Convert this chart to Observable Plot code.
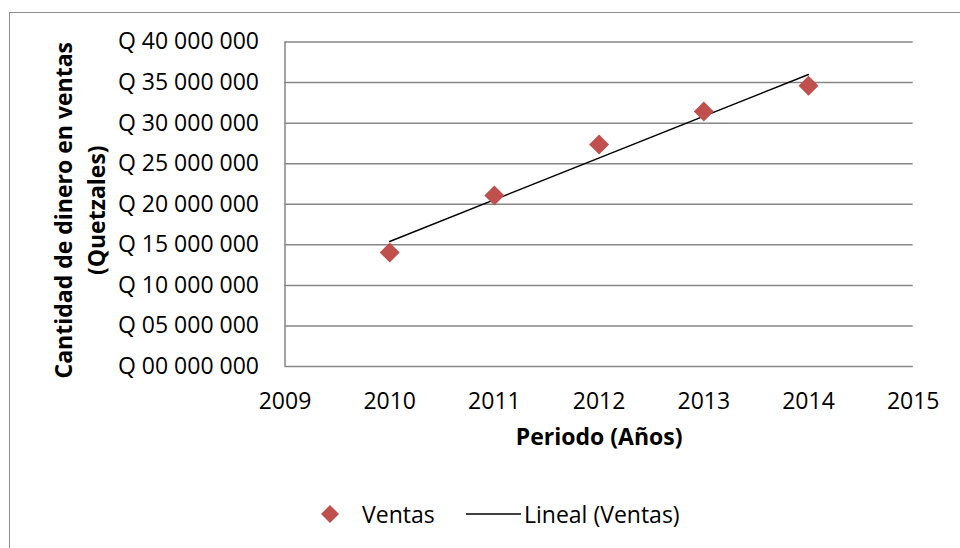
<!DOCTYPE html>
<html>
<head>
<meta charset="utf-8">
<script src="https://cdn.jsdelivr.net/npm/d3@7"></script>
<script src="https://cdn.jsdelivr.net/npm/@observablehq/plot@0.6"></script>
<style>
  html, body { margin: 0; padding: 0; background: #fff; }
  body { width: 960px; height: 548px; overflow: hidden; position: relative; font-family: "Open Sans", sans-serif; }
  #frame { position: absolute; left: 9px; top: 12px; width: 1000px; height: 600px; border-left: 1.5px solid #8e8e8e; border-top: 1.5px solid #8e8e8e; box-sizing: border-box; }
  #chart { position: absolute; left: 0; top: 0; }
  #legend { position: absolute; left: 0; top: 480px; width: 960px; height: 68px; font-size: 23px; color: #000; }
  .item { position: absolute; top: 14px; display: flex; align-items: center; height: 40px; }
</style>
</head>
<body>
<div id="frame"></div>
<div id="chart"></div>
<div id="legend">
  <div class="item" style="left:318px"><svg width="24" height="24" style="margin-right:20px"><polygon points="12,3 21,12 12,21 3,12" fill="#C0504D"/></svg><span id="lg1"></span></div>
  <div class="item" style="left:466px"><svg width="55" height="24" style="margin-right:3px"><line x1="0" y1="12" x2="55" y2="12" stroke="#000" stroke-width="1.5"/></svg><span id="lg2"></span></div>
</div>
<script>
const years = [2010, 2011, 2012, 2013, 2014];
const ventas = [14050000, 21080000, 27370000, 31430000, 34600000];
const xDomain = [2009, 2015];
const xTicks = [2009, 2010, 2011, 2012, 2013, 2014, 2015];
const yDomain = [0, 40000000];
const yTicks = [0, 5000000, 10000000, 15000000, 20000000, 25000000, 30000000, 35000000, 40000000];
const yTitle = "Cantidad de dinero en ventas\n(Quetzales)";
const xTitle = "Periodo (Años)";
const seriesName = "Ventas";
const trendName = "Lineal (Ventas)";

const data = years.map((y, i) => ({year: y, value: ventas[i]}));
const fmtY = d => "Q " + String(Math.round(d / 1e6)).padStart(2, "0") + " 000 000";

const plot = Plot.plot({
  width: 960,
  height: 480,
  marginLeft: 284.5,
  marginRight: 47.3,
  marginTop: 41.5,
  marginBottom: 114,
  style: {fontFamily: "Open Sans, sans-serif", fontSize: "23px", color: "#000", background: "transparent"},
  x: {domain: xDomain, ticks: xTicks, tickFormat: d => String(d), label: null},
  y: {domain: yDomain, ticks: yTicks, tickFormat: fmtY, label: null},
  marks: [
    Plot.gridY(yTicks, {stroke: "#868686", strokeOpacity: 1, strokeWidth: 1.5}),
    Plot.ruleX([xDomain[0]], {stroke: "#868686", strokeWidth: 1.5}),
    Plot.axisX({ticks: xTicks, tickSize: 0, tickPadding: 26, tickFormat: d => String(d), label: null, fontSize: 23}),
    Plot.axisY({ticks: yTicks, tickSize: 0, tickPadding: 26, tickFormat: fmtY, label: null, fontSize: 23}),
    Plot.linearRegressionY(data, {x: "year", y: "value", stroke: "#000", strokeWidth: 1.5, ci: 0}),
    Plot.dot(data, {x: "year", y: "value", symbol: "diamond2", r: 9, fill: "#C0504D", stroke: "none"}),
    Plot.text([yTitle], {frameAnchor: "left", textAnchor: "middle", rotate: -90, dx: -207.5, dy: 6, fontWeight: "bold", fontSize: 23, lineHeight: 1.45, fill: "#000"}),
    Plot.text([xTitle], {frameAnchor: "bottom", lineAnchor: "top", dy: 62, fontWeight: "bold", fontSize: 23, fill: "#000"})
  ]
});
document.getElementById("chart").appendChild(plot);
document.getElementById("lg1").textContent = seriesName;
document.getElementById("lg2").textContent = trendName;
</script>
</body>
</html>
